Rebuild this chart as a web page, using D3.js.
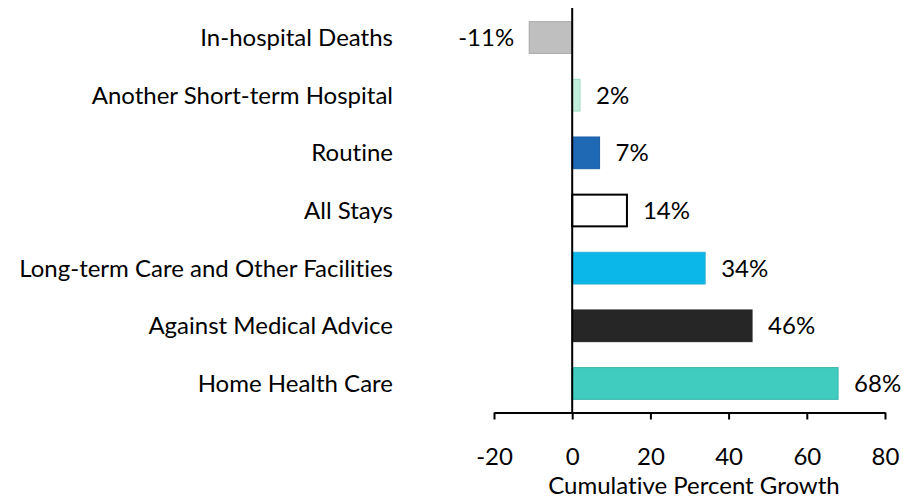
<!DOCTYPE html>
<html>
<head>
<meta charset="utf-8">
<script src="https://cdn.jsdelivr.net/npm/d3@7"></script>
<style>
  body { margin: 0; background: #fff; }
  text { font-family: Lato, "Open Sans", sans-serif; fill: #000; font-variant-ligatures: none; }
</style>
</head>
<body>
<div id="chart"></div>
<script>
// data
var categories = ["In-hospital Deaths", "Another Short-term Hospital", "Routine", "All Stays",
                  "Long-term Care and Other Facilities", "Against Medical Advice", "Home Health Care"];
var values = [-11, 2, 7, 14, 34, 46, 68];
var fills = ["#bfbfbf", "#c3f0dd", "#1f69b4", "#ffffff", "#0bb6e8", "#262626", "#40cdc0"];
var strokes = ["#a9a9a9", "#9fdcc6", "#1a5fa6", "#000000", "#2ab0d8", "#262626", "#35b5aa"];
var xTicks = [-20, 0, 20, 40, 60, 80];

var width = 903, height = 499;
var fontSize = "24px";

var svg = d3.select("#chart").append("svg")
    .attr("width", width)
    .attr("height", height);

var x = d3.scaleLinear().domain([-20, 80]).range([494, 885]);
var y = d3.scaleBand().domain(categories).range([8.7, 412.3])
    .paddingInner(0.45).paddingOuter(0.225);

// bars
svg.selectAll(".bar")
  .data(values)
  .enter().append("rect")
    .attr("class", "bar")
    .attr("x", function(d) { return x(Math.min(0, d)); })
    .attr("y", function(d, i) { return y(categories[i]); })
    .attr("width", function(d) { return Math.abs(x(d) - x(0)); })
    .attr("height", y.bandwidth())
    .attr("fill", function(d, i) { return fills[i]; })
    .attr("stroke", function(d, i) { return strokes[i]; })
    .attr("stroke-width", function(d, i) { return categories[i] == "All Stays" ? 2 : 1; });

// value labels
svg.selectAll(".val")
  .data(values)
  .enter().append("text")
    .attr("class", "val")
    .attr("x", function(d) { return d < 0 ? x(d) - 15 : x(d) + 16; })
    .attr("y", function(d, i) { return y(categories[i]) + y.bandwidth() / 2; })
    .attr("dy", "0.36em")
    .attr("text-anchor", function(d) { return d < 0 ? "end" : "start"; })
    .style("font-size", fontSize)
    .text(function(d) { return d + "%"; });

// category labels
svg.selectAll(".cat")
  .data(categories)
  .enter().append("text")
    .attr("class", "cat")
    .attr("x", 393)
    .attr("y", function(d) { return y(d) + y.bandwidth() / 2; })
    .attr("dy", "0.36em")
    .attr("text-anchor", "end")
    .style("font-size", fontSize)
    .text(function(d) { return d; });

// x axis
var xAxis = svg.append("g")
    .attr("transform", "translate(0,412.5)")
    .call(d3.axisBottom(x).tickValues(xTicks)
      .tickFormat(function(d) { return String(d); })
      .tickSize(7).tickPadding(28).tickSizeOuter(0));
xAxis.select(".domain").attr("stroke", "#000").attr("stroke-width", 2);
xAxis.selectAll(".tick line").attr("stroke", "#000").attr("stroke-width", 2);
xAxis.selectAll(".tick text")
    .attr("fill", "#000")
    .style("font-family", "Lato, 'Open Sans', sans-serif")
    .style("font-size", fontSize);

// vertical zero line
svg.append("line")
    .attr("x1", x(0)).attr("x2", x(0))
    .attr("y1", 8).attr("y2", 412.5)
    .attr("stroke", "#000")
    .attr("stroke-width", 2);

// axis title
svg.append("text")
    .attr("x", 694)
    .attr("y", 485)
    .attr("dy", "0.36em")
    .attr("text-anchor", "middle")
    .style("font-size", fontSize)
    .text("Cumulative Percent Growth");
</script>
</body>
</html>
